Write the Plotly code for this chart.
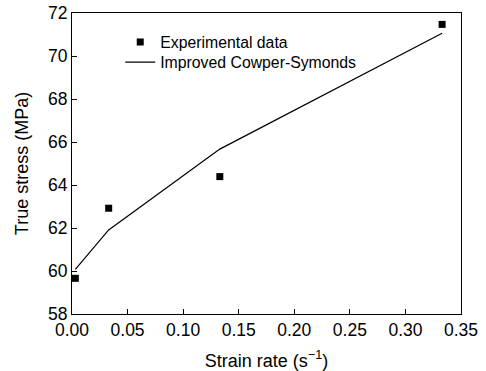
import plotly.graph_objects as go

exp_rate = [0.003, 0.033, 0.133, 0.333]
exp_stress = [59.66, 62.92, 64.39, 71.47]
model_rate = [0.003, 0.033, 0.133, 0.333]
model_stress = [60.08, 61.91, 65.67, 71.06]

font = "Liberation Sans, Arial, sans-serif"

fig = go.Figure()
fig.add_trace(go.Scatter(x=exp_rate, y=exp_stress, mode="markers",
                         name="Experimental data", legend="legend",
                         marker=dict(symbol="square", size=7, color="black"),
                         cliponaxis=False))
fig.add_trace(go.Scatter(x=model_rate, y=model_stress, mode="lines",
                         name="Improved Cowper-Symonds", legend="legend2",
                         line=dict(color="black", width=1.2)))

axis_common = dict(showgrid=False, zeroline=False, showline=True, linecolor="black",
                   linewidth=1.2, mirror=True, ticks="inside", ticklen=5,
                   tickcolor="black", tickwidth=1.2, automargin=False,
                   tickfont=dict(family=font, size=17.5, color="black"))

fig.update_xaxes(range=[0, 0.35], dtick=0.05, tickformat=".2f",
                 title=dict(text="Strain rate (s<sup>\u22121</sup>)",
                            font=dict(family=font, size=18, color="black"), standoff=16),
                 **axis_common)
fig.update_yaxes(range=[58, 72], dtick=2,
                 title=dict(text="True stress (MPa)",
                            font=dict(family=font, size=18, color="black"), standoff=14),
                 **axis_common)

leg_common = dict(xanchor="left", yanchor="middle", bgcolor="rgba(0,0,0,0)",
                  font=dict(family=font, size=15.8, color="black"))
fig.update_layout(width=486, height=371, margin=dict(l=72, r=25, t=13, b=57),
                  plot_bgcolor="white", paper_bgcolor="white",
                  showlegend=True,
                  legend=dict(x=0.124, y=0.903, **leg_common),
                  legend2=dict(x=0.124, y=0.836, **leg_common))

fig.write_html("out.html")
